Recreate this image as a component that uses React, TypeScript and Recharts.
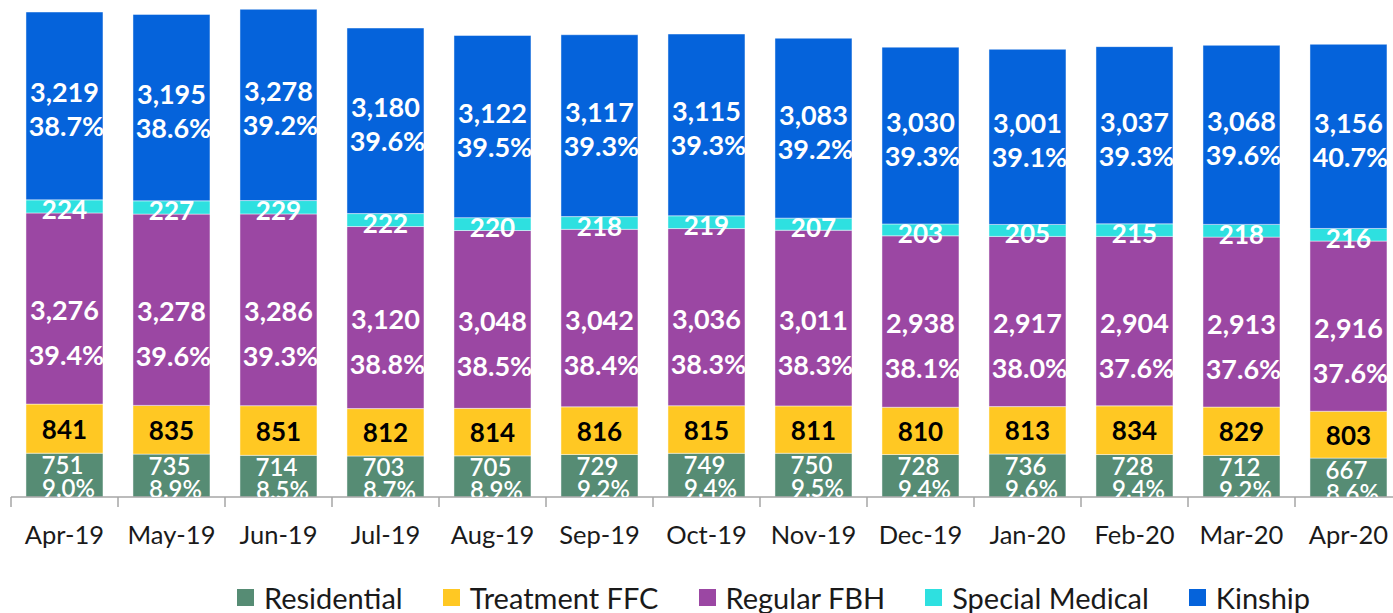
import React from 'react';
import { BarChart, Bar, XAxis, YAxis, LabelList, Legend } from 'recharts';

const months = ['Apr-19', 'May-19', 'Jun-19', 'Jul-19', 'Aug-19', 'Sep-19', 'Oct-19', 'Nov-19', 'Dec-19', 'Jan-20', 'Feb-20', 'Mar-20', 'Apr-20'];
const residential = [751, 735, 714, 703, 705, 729, 749, 750, 728, 736, 728, 712, 667];
const residentialPct = [9.0, 8.9, 8.5, 8.7, 8.9, 9.2, 9.4, 9.5, 9.4, 9.6, 9.4, 9.2, 8.6];
const treatmentFFC = [841, 835, 851, 812, 814, 816, 815, 811, 810, 813, 834, 829, 803];
const regularFBH = [3276, 3278, 3286, 3120, 3048, 3042, 3036, 3011, 2938, 2917, 2904, 2913, 2916];
const regularFBHPct = [39.4, 39.6, 39.3, 38.8, 38.5, 38.4, 38.3, 38.3, 38.1, 38.0, 37.6, 37.6, 37.6];
const specialMedical = [224, 227, 229, 222, 220, 218, 219, 207, 203, 205, 215, 218, 216];
const kinship = [3219, 3195, 3278, 3180, 3122, 3117, 3115, 3083, 3030, 3001, 3037, 3068, 3156];
const kinshipPct = [38.7, 38.6, 39.2, 39.6, 39.5, 39.3, 39.3, 39.2, 39.3, 39.1, 39.3, 39.6, 40.7];

const seriesNames = ['Residential', 'Treatment FFC', 'Regular FBH', 'Special Medical', 'Kinship'];
const seriesKeys = ['residential', 'treatmentFFC', 'regularFBH', 'specialMedical', 'kinship'];
const seriesColors = ['#568C74', '#FFC823', '#9B47A3', '#2EE0E0', '#0563DB'];

const data = months.map((m, i) => ({
  month: m,
  residential: residential[i],
  treatmentFFC: treatmentFFC[i],
  regularFBH: regularFBH[i],
  specialMedical: specialMedical[i],
  kinship: kinship[i],
}));

const FONT = "Lato, 'Open Sans', 'DejaVu Sans', sans-serif";
const CHART_W = 1410;
const CHART_H = 613;
const MARGIN = { top: 1, right: 8, left: 11, bottom: 36 };
const BAND = (CHART_W - MARGIN.left - MARGIN.right) / months.length;

const fmt = (v: number) => Number(v).toLocaleString('en-US');

const box = (props: any) => {
  const vb = props.viewBox && props.viewBox.width !== undefined ? props.viewBox : props;
  return { x: Number(vb.x), y: Number(vb.y), w: Number(vb.width), h: Number(vb.height) };
};

const twoLine = (pcts: number[], valueDy: number, pctDy: number) => (props: any) => {
  const { x, y, w, h } = box(props);
  const i = props.index;
  const cx = x + w / 2;
  const cy = y + h / 2;
  return (
    <g>
      <text x={cx} y={cy + valueDy} textAnchor="middle" dominantBaseline="central" fill="#fff" fontSize={27} fontWeight={700} fontFamily={FONT}>
        {fmt(props.value)}
      </text>
      <text x={cx + 2} y={cy + pctDy} textAnchor="middle" dominantBaseline="central" fill="#fff" fontSize={27} fontWeight={700} fontFamily={FONT}>
        {pcts[i].toFixed(1)}%
      </text>
    </g>
  );
};

const singleLabel = (color: string, dy: number) => (props: any) => {
  const { x, y, w, h } = box(props);
  return (
    <text x={x + w / 2} y={y + h / 2 + dy} textAnchor="middle" dominantBaseline="central" fill={color} fontSize={26} fontWeight={700} fontFamily={FONT}>
      {fmt(props.value)}
    </text>
  );
};

const residentialLabel = (props: any) => {
  const { x, y, w, h } = box(props);
  const i = props.index;
  const id = `res-clip-${i}`;
  return (
    <g>
      <defs>
        <clipPath id={id}>
          <rect x={x - 20} y={y - 20} width={w + 40} height={h + 20} />
        </clipPath>
      </defs>
      <g clipPath={`url(#${id})`}>
        <text x={x + w / 2 - 2} y={y + 11} textAnchor="middle" dominantBaseline="central" fill="#fff" fontSize={24} fontWeight={600} fontFamily={FONT}>
          {fmt(props.value)}
        </text>
        <text x={x + w / 2 + 4} y={y + 34} textAnchor="middle" dominantBaseline="central" fill="#fff" fontSize={24} fontWeight={600} fontFamily={FONT}>
          {residentialPct[i].toFixed(1)}%
        </text>
      </g>
    </g>
  );
};

const AxisTick = (props: any) => {
  const { x, y, payload, index, visibleTicksCount } = props;
  const half = payload && payload.offset ? payload.offset : BAND / 2;
  return (
    <g>
      <line x1={x - half} x2={x - half} y1={y} y2={y + 10} stroke="#a6a6a6" strokeWidth={1.5} />
      {index === visibleTicksCount - 1 && (
        <line x1={x + half} x2={x + half} y1={y} y2={y + 10} stroke="#a6a6a6" strokeWidth={1.5} />
      )}
      <text x={x} y={y + 47} textAnchor="middle" fill="#1a1a1a" fontSize={25.5} fontFamily={FONT}>
        {payload.value}
      </text>
    </g>
  );
};

const LegendContent = () => (
  <div style={{ display: 'flex', alignItems: 'center', height: 30, paddingLeft: 237, fontFamily: FONT, fontSize: 29, color: '#1a1a1a', whiteSpace: 'nowrap' }}>
    {seriesNames.map((n, i) => (
      <div key={n} style={{ display: 'flex', alignItems: 'center', marginRight: 40 }}>
        <div style={{ width: 17, height: 17, background: seriesColors[i], marginRight: 10 }} />
        <span>{n}</span>
      </div>
    ))}
  </div>
);

export default function App() {
  const labelFns = [
    residentialLabel,
    singleLabel('#000', 0),
    twoLine(regularFBHPct, 1, 46),
    singleLabel('#fff', 3),
    twoLine(kinshipPct, -14, 20),
  ];
  return (
    <div style={{ position: 'fixed', left: 0, top: 0, width: 1393, height: 613, overflow: 'hidden', background: '#fff' }}>
      <BarChart width={CHART_W} height={CHART_H} data={data} margin={MARGIN} barCategoryGap="14%">
        <XAxis dataKey="month" axisLine={{ stroke: '#a6a6a6', strokeWidth: 1.5 }} tickLine={false} tickSize={0} tickMargin={0} height={50} tick={<AxisTick />} interval={0} />
        <YAxis hide domain={[0, 8500]} />
        <Legend verticalAlign="bottom" wrapperStyle={{ top: 582, left: 0, bottom: 'auto', width: CHART_W, height: 30 }} content={<LegendContent />} />
        {seriesKeys.map((k, i) => (
          <Bar key={k} dataKey={k} name={seriesNames[i]} stackId="a" fill={seriesColors[i]} stroke="rgba(255,255,255,0.45)" strokeWidth={1} isAnimationActive={false}>
            <LabelList dataKey={k} content={labelFns[i]} />
          </Bar>
        ))}
      </BarChart>
    </div>
  );
}
